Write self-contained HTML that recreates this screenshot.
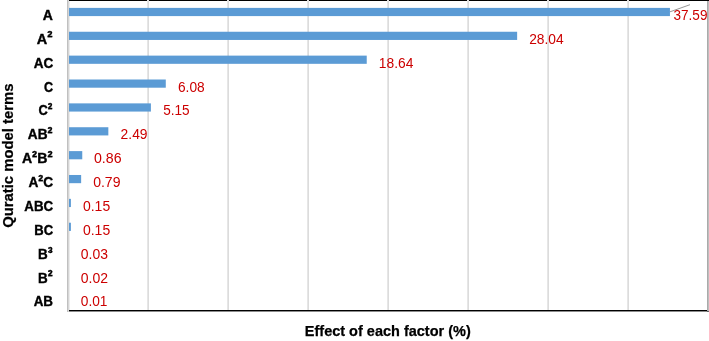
<!DOCTYPE html>
<html lang="en"><head><meta charset="utf-8"><title>Effect of each factor</title>
<style>html,body{margin:0;padding:0;background:#fff}svg{display:block}text{font-family:"Liberation Sans",sans-serif}.b{font-weight:bold;fill:#000;stroke:#000;stroke-width:.4px;font-size:14.4px}.s{font-size:15.7px}.t{font-weight:bold;fill:#000;stroke:#000;stroke-width:.25px;font-size:15.3px}.v{fill:#cc0000;font-size:13.8px}</style></head><body>
<svg width="709" height="341" viewBox="0 0 709 341">
<rect width="709" height="341" fill="#fff"/>
<rect x="69" y="0" width="640" height="1" fill="#000"/>
<rect x="147" y="0" width="1" height="311" fill="#e6e6e6"/>
<rect x="148" y="0" width="1" height="311" fill="#dcdcdc"/>
<rect x="227" y="0" width="1" height="311" fill="#e6e6e6"/>
<rect x="228" y="0" width="1" height="311" fill="#dcdcdc"/>
<rect x="307" y="0" width="1" height="311" fill="#e6e6e6"/>
<rect x="308" y="0" width="1" height="311" fill="#dcdcdc"/>
<rect x="387" y="0" width="1" height="311" fill="#e6e6e6"/>
<rect x="388" y="0" width="1" height="311" fill="#dcdcdc"/>
<rect x="467" y="0" width="1" height="311" fill="#e6e6e6"/>
<rect x="468" y="0" width="1" height="311" fill="#dcdcdc"/>
<rect x="547" y="0" width="1" height="311" fill="#e6e6e6"/>
<rect x="548" y="0" width="1" height="311" fill="#dcdcdc"/>
<rect x="627" y="0" width="1" height="311" fill="#e6e6e6"/>
<rect x="628" y="0" width="1" height="311" fill="#dcdcdc"/>
<rect x="707" y="1" width="1" height="311" fill="#aaa"/>
<rect x="708" y="1" width="1" height="311" fill="#bebebe"/>
<rect x="69" y="310" width="638" height="1" fill="#000"/>
<rect x="69" y="311" width="640" height="1" fill="#000" fill-opacity="0.45"/>
<rect x="67" y="0" width="1" height="312" fill="#c0c0c0"/>
<rect x="68" y="0" width="1" height="312" fill="#d6d6d6"/>
<rect x="69" y="1" width="1" height="309" fill="#ececec"/>
<rect x="69" y="7.89" width="600.94" height="8.2" fill="#5b9bd5"/>
<rect x="69" y="31.75" width="448.14" height="8.2" fill="#5b9bd5"/>
<rect x="69" y="55.62" width="297.74" height="8.2" fill="#5b9bd5"/>
<rect x="69" y="79.50" width="96.78" height="8.2" fill="#5b9bd5"/>
<rect x="69" y="103.37" width="81.90" height="8.2" fill="#5b9bd5"/>
<rect x="69" y="127.23" width="39.34" height="8.2" fill="#5b9bd5"/>
<rect x="69" y="151.11" width="13.26" height="8.2" fill="#5b9bd5"/>
<rect x="69" y="174.98" width="12.14" height="8.2" fill="#5b9bd5"/>
<rect x="69" y="198.85" width="1.90" height="8.2" fill="#5b9bd5"/>
<rect x="69" y="222.72" width="1.90" height="8.2" fill="#5b9bd5"/>
<rect x="69" y="246.59" width="-0.02" height="8.2" fill="#5b9bd5"/>
<rect x="69" y="270.45" width="-0.18" height="8.2" fill="#5b9bd5"/>
<rect x="69" y="294.32" width="-0.34" height="8.2" fill="#5b9bd5"/>
<line x1="670" y1="11.8" x2="690" y2="4.7" stroke="#8a8a8a" stroke-width="0.9"/>
<text class="b" x="42.75" y="20.00" textLength="10.12" lengthAdjust="spacingAndGlyphs">A</text>
<text class="b" x="36.84" y="43.87" textLength="15.69" lengthAdjust="spacingAndGlyphs">A<tspan class="s" dy="-0.50">²</tspan></text>
<text class="b" x="33.66" y="67.74" textLength="19.51" lengthAdjust="spacingAndGlyphs">AC</text>
<text class="b" x="44.09" y="91.61" textLength="9.06" lengthAdjust="spacingAndGlyphs">C</text>
<text class="b" x="38.57" y="115.48" textLength="13.92" lengthAdjust="spacingAndGlyphs">C<tspan class="s" dy="-0.50">²</tspan></text>
<text class="b" x="27.86" y="139.35" textLength="24.65" lengthAdjust="spacingAndGlyphs">AB<tspan class="s" dy="-0.50">²</tspan></text>
<text class="b" x="21.95" y="163.22" textLength="30.57" lengthAdjust="spacingAndGlyphs">A<tspan class="s" dy="-0.50">²</tspan><tspan dy="0.50">B</tspan><tspan class="s" dy="-0.50">²</tspan></text>
<text class="b" x="28.46" y="187.09" textLength="24.71" lengthAdjust="spacingAndGlyphs">A<tspan class="s" dy="-0.50">²</tspan><tspan dy="0.50">C</tspan></text>
<text class="b" x="24.37" y="210.96" textLength="28.79" lengthAdjust="spacingAndGlyphs">ABC</text>
<text class="b" x="34.33" y="234.83" textLength="18.83" lengthAdjust="spacingAndGlyphs">BC</text>
<text class="b" x="38.10" y="258.70" textLength="14.62" lengthAdjust="spacingAndGlyphs">B<tspan class="s" dy="-0.50">³</tspan></text>
<text class="b" x="38.10" y="282.57" textLength="14.61" lengthAdjust="spacingAndGlyphs">B<tspan class="s" dy="-0.50">²</tspan></text>
<text class="b" x="33.67" y="306.44" textLength="19.34" lengthAdjust="spacingAndGlyphs">AB</text>
<text class="v" x="673.48" y="20.00" textLength="33.96" lengthAdjust="spacingAndGlyphs">37.59</text>
<text class="v" x="529.21" y="43.87" textLength="34.50" lengthAdjust="spacingAndGlyphs">28.04</text>
<text class="v" x="378.85" y="67.74" textLength="34.56" lengthAdjust="spacingAndGlyphs">18.64</text>
<text class="v" x="178.00" y="91.61" textLength="26.69" lengthAdjust="spacingAndGlyphs">6.08</text>
<text class="v" x="163.26" y="115.48" textLength="26.41" lengthAdjust="spacingAndGlyphs">5.15</text>
<text class="v" x="120.60" y="139.35" textLength="26.95" lengthAdjust="spacingAndGlyphs">2.49</text>
<text class="v" x="93.95" y="163.22" textLength="27.58" lengthAdjust="spacingAndGlyphs">0.86</text>
<text class="v" x="93.15" y="187.09" textLength="27.31" lengthAdjust="spacingAndGlyphs">0.79</text>
<text class="v" x="82.95" y="210.96" textLength="27.23" lengthAdjust="spacingAndGlyphs">0.15</text>
<text class="v" x="82.95" y="234.83" textLength="27.23" lengthAdjust="spacingAndGlyphs">0.15</text>
<text class="v" x="80.75" y="258.70" textLength="27.16" lengthAdjust="spacingAndGlyphs">0.03</text>
<text class="v" x="80.75" y="282.57" textLength="27.25" lengthAdjust="spacingAndGlyphs">0.02</text>
<text class="v" x="80.76" y="306.44" textLength="26.71" lengthAdjust="spacingAndGlyphs">0.01</text>
<text class="t" x="304.83" y="336" textLength="165.89" lengthAdjust="spacingAndGlyphs">Effect of each factor (%)</text>
<text class="t" transform="translate(12.9 227.2) rotate(-90)" x="-0.61" y="0" textLength="144.22" lengthAdjust="spacingAndGlyphs">Quratic model terms</text>
</svg></body></html>
